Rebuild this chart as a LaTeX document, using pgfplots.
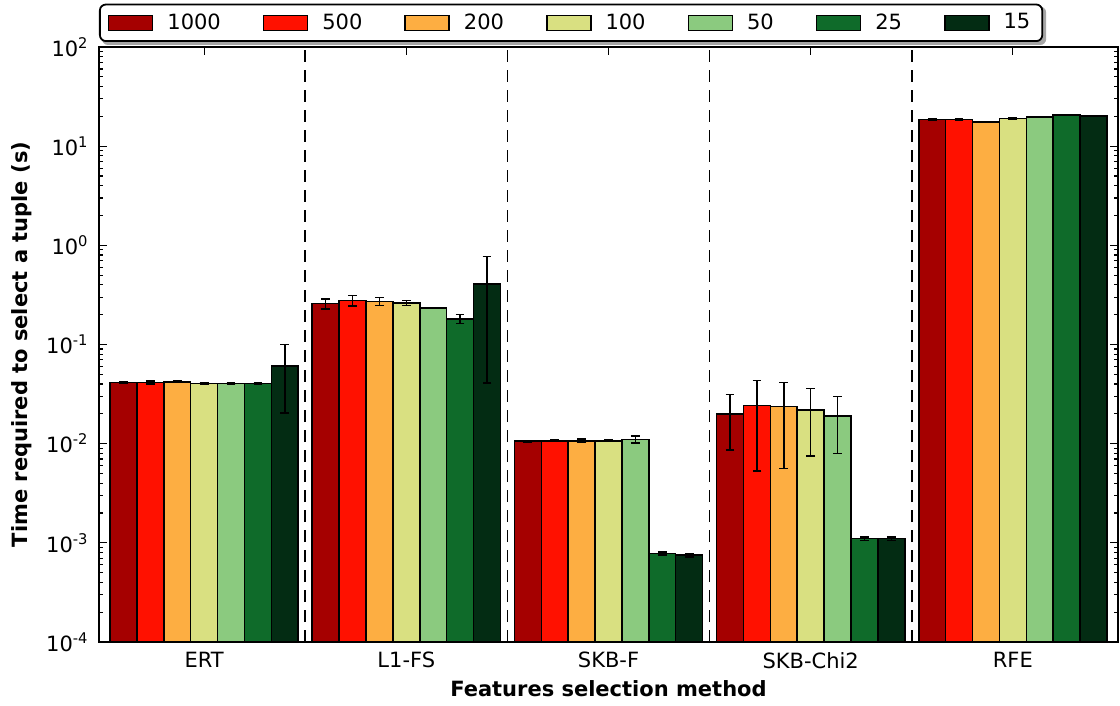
\documentclass[border=0pt]{standalone}
\usepackage{fontspec}
\setmainfont{DejaVu Sans}
\usepackage{pgfplots}
\pgfplotsset{compat=1.18}
\usetikzlibrary{backgrounds}
\definecolor{c1000}{HTML}{A50000}
\definecolor{c500}{HTML}{FF1100}
\definecolor{c200}{HTML}{FDAE42}
\definecolor{c100}{HTML}{D9E081}
\definecolor{c50}{HTML}{8BCA7F}
\definecolor{c25}{HTML}{0F6B2A}
\definecolor{c15}{HTML}{032C13}
\newcommand\fs{\fontsize{10.5}{12.5}\selectfont}
\pgfplotsset{
  bstyle/.style={draw=black, line width=0.75pt, fill=#1,
    legend image code/.code={\draw[fill=#1, draw=black, line width=0.75pt, sharp corners] (0pt,-3.75pt) rectangle (22pt,3.75pt);}},
}
\begin{document}
\begin{tikzpicture}
\useasboundingbox (-49.5pt,-32pt) rectangle (510.5pt,321pt);
\begin{axis}[
  at={(0,0)}, anchor=south west,
  scale only axis, width=509.5pt, height=297.5pt,
  ymode=log, log origin y=infty,
  xmin=-0.52, xmax=4.52, ymin=1e-4, ymax=1e2,
  ybar=0pt, bar width=0.133,
  axis line style={line width=0.7pt},
  xtick={0,1,2,3,4}, xticklabels={ERT,L1-FS,SKB-F,SKB-Chi2,RFE},
  ytick={1e-4,1e-3,1e-2,1e-1,1,10,100},
  yticklabels={10\textsuperscript{-4},10\textsuperscript{-3},10\textsuperscript{-2},10\textsuperscript{-1},10\textsuperscript{0},10\textsuperscript{1},10\textsuperscript{2}},
  tick align=inside, major tick length=4pt, minor tick length=2pt,
  tick style={black, line width=0.6pt},
  every tick label/.append style={font=\fs},
  yticklabel style={inner sep=0pt, xshift=-5pt},
  xticklabel style={inner sep=0pt, yshift=-5pt},
  extra x ticks={0.5,1.5,2.5,3.5}, extra x tick labels={},
  extra x tick style={grid=major, major tick length=0pt,
     major grid style={black, line width=0.75pt, dash pattern=on 6pt off 4pt}},
  xlabel={Features selection method},
  ylabel={Time required to select a tuple (s)},
  every axis x label/.style={at={(axis description cs:0.5,-0.079)}, anchor=center, font=\fs\bfseries},
  every axis y label/.style={at={(axis description cs:-0.0756,0.5)}, rotate=90, anchor=center, font=\fs\bfseries},
  legend columns=7,
  legend style={at={(axis description cs:0,1)}, anchor=south west, yshift=2.5pt,
    font=\fs, draw=black, line width=0.9pt, rounded corners=3pt, fill=white,
    inner xsep=4pt, inner ysep=2.5pt, name=leg,
    /tikz/every odd column/.append style={column sep=5pt},
    /tikz/every even column/.append style={column sep=19pt}},
  error bars/y dir=both, error bars/y explicit,
  error bars/error bar style={black, line width=0.75pt},
  error bars/error mark options={black, line width=0.75pt, mark size=2.2pt, rotate=90},
]
\addplot[bstyle=c1000] table[x=x,y=y,y error=e] {
x y e
0 0.0415 0.0005
1 0.259 0.030
2 0.0106 0.0002
3 0.0200 0.0114
4 18.6 0.2
};
\addplot[bstyle=c500] table[x=x,y=y,y error=e] {
x y e
0 0.0415 0.0015
1 0.278 0.033
2 0.0107 0.0002
3 0.0243 0.019
4 18.5 0.2
};
\addplot[bstyle=c200] table[x=x,y=y,y error=e] {
x y e
0 0.042 0.0008
1 0.272 0.025
2 0.0107 0.0004
3 0.0236 0.018
4 17.6 0.2
};
\addplot[bstyle=c100] table[x=x,y=y,y error=e] {
x y e
0 0.0405 0.0007
1 0.263 0.015
2 0.0107 0.0002
3 0.0218 0.0143
4 19.0 0.2
};
\addplot[bstyle=c50] table[x=x,y=y,y error=e] {
x y e
0 0.0405 0.0004
1 0.234 0.003
2 0.0110 0.0009
3 0.0190 0.011
4 19.6 0.2
};
\addplot[bstyle=c25] table[x=x,y=y,y error=e] {
x y e
0 0.0405 0.0004
1 0.181 0.019
2 0.00078 0.00003
3 0.00110 0.00004
4 20.7 0.2
};
\addplot[bstyle=c15] table[x=x,y=y,y error=e] {
x y e
0 0.0605 0.040
1 0.406 0.365
2 0.00075 0.00003
3 0.00110 0.00004
4 20.2 0.2
};
\legend{1000,500,200,100,50,25,15}
\end{axis}
\begin{scope}[on background layer]
\fill[gray!70, rounded corners=3pt] ([xshift=1.5pt,yshift=-1.5pt]leg.south west) rectangle ([xshift=1.5pt,yshift=-1.5pt]leg.north east);
\end{scope}
\end{tikzpicture}
\end{document}
